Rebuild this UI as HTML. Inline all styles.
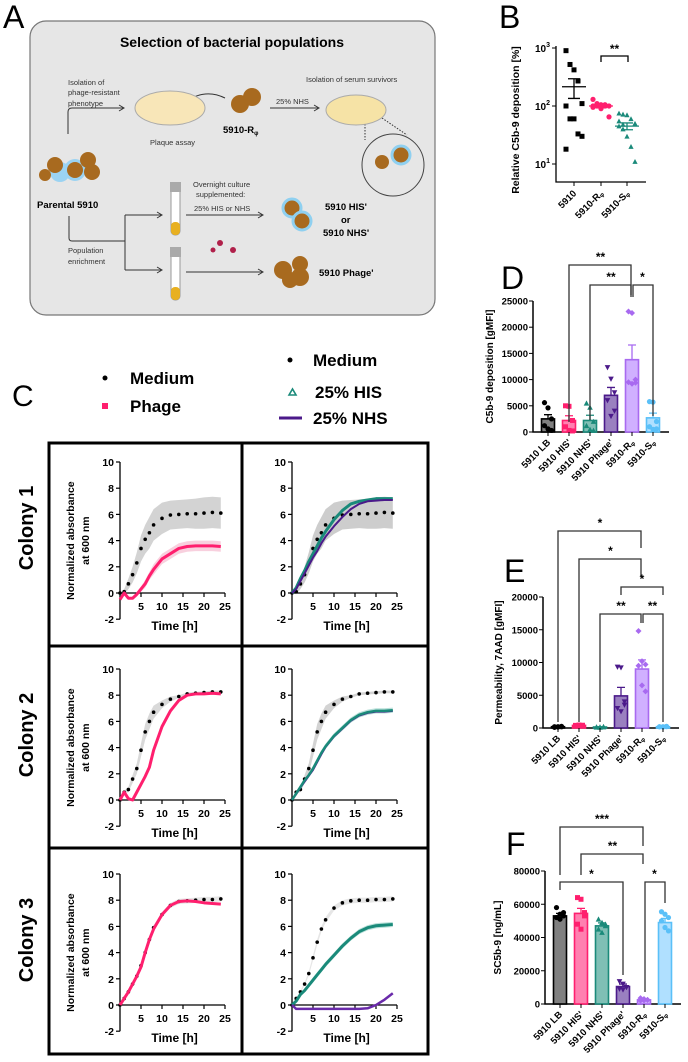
<!DOCTYPE html>
<html><head><meta charset="utf-8"><style>
html,body{margin:0;padding:0;background:#fff;}
svg{display:block;font-family:"Liberation Sans",Arial,sans-serif;}
</style></head><body>
<svg id="fig" width="688" height="1062" viewBox="0 0 688 1062" xmlns="http://www.w3.org/2000/svg">
<!-- Panel A -->
<g>
<text x="3" y="28" font-size="32">A</text>
<rect x="30" y="21" width="405" height="294" rx="16" fill="#e6e6e6" stroke="#777" stroke-width="1.2"/>
<text x="232" y="47" font-size="14" font-weight="bold" text-anchor="middle">Selection of bacterial populations</text>
<g font-size="7.5" fill="#333">
<text x="68" y="85">Isolation of</text><text x="68" y="95">phage-resistant</text><text x="68" y="106">phenotype</text>
<text x="150" y="145">Plaque assay</text>
<text x="276" y="104">25% NHS</text>
<text x="306" y="82">Isolation of serum survivors</text>
<text x="193" y="187">Overnight culture</text><text x="196" y="197">supplemented:</text>
<text x="194" y="211">25% HIS or NHS</text>
<text x="68" y="253">Population</text><text x="68" y="264">enrichment</text>
</g>
<g font-weight="bold" font-size="9.5">
<text x="37" y="208">Parental 5910</text>
<text x="223" y="133">5910-R<tspan font-size="6" dy="2">φ</tspan></text>
<text x="372" y="183">5910-S<tspan font-size="6" dy="2">φ</tspan></text>
<text x="325" y="210">5910 HIS'</text><text x="341" y="223">or</text><text x="323" y="236">5910 NHS'</text>
<text x="319" y="276">5910 Phage'</text>
</g>
<g fill="none" stroke="#333" stroke-width="1">
<path d="M68 134 V112 Q68 108 72 108 H123"/><path d="M119 105 L124 108 L119 111"/>
<path d="M270 108 H318"/><path d="M314 105 L319 108 L314 111"/>
<path d="M185 102 Q205 88 225 98"/>
<path d="M69 216 V238 Q69 241 72 241 H125"/>
<path d="M125 215 V270 M125 215 H161 M125 270 H161"/><path d="M157 212 L162 215 L157 218 M157 267 L162 270 L157 273"/>
<path d="M186 215 H262"/><path d="M258 212 L263 215 L258 218"/>
<path d="M186 272 H262"/><path d="M258 269 L263 272 L258 275"/>
<path d="M365 118 L365 140 M382 118 L407 135" stroke-dasharray="1.5 1.5"/>
</g>
<ellipse cx="170" cy="108" rx="35" ry="17" fill="#f8e6b8" stroke="#aaa"/>
<ellipse cx="356" cy="110" rx="30" ry="15" fill="#f6e3a6" stroke="#aaa"/>
<circle cx="393" cy="165" r="31" fill="#e6e6e6" stroke="#444"/>
<g fill="#a86a1f">
<circle cx="240" cy="104" r="9"/><circle cx="252" cy="97" r="9"/>
<circle cx="60" cy="172" r="10" fill="#9bd3f2"/><circle cx="75" cy="170" r="11" fill="#9bd3f2"/>
<circle cx="55" cy="165" r="8"/><circle cx="75" cy="170" r="8"/><circle cx="88" cy="160" r="8"/><circle cx="92" cy="172" r="8"/><circle cx="45" cy="175" r="6"/>
<circle cx="382" cy="162" r="7"/><circle cx="401" cy="155" r="9" stroke="#8fd0f0" stroke-width="3"/>
<circle cx="292" cy="208" r="9" stroke="#8fd0f0" stroke-width="3"/><circle cx="302" cy="221" r="9" stroke="#8fd0f0" stroke-width="3"/>
<circle cx="283" cy="270" r="9"/><circle cx="300" cy="264" r="8"/><circle cx="300" cy="277" r="9"/><circle cx="290" cy="280" r="8"/>
</g>
<g>
<rect x="171" y="183" width="9" height="52" rx="4" fill="#fff" stroke="#999"/><rect x="171" y="222" width="9" height="13" rx="4" fill="#e8b020"/><rect x="170" y="182" width="11" height="10" fill="#aaa"/>
<rect x="171" y="248" width="9" height="52" rx="4" fill="#fff" stroke="#999"/><rect x="171" y="287" width="9" height="13" rx="4" fill="#e8b020"/><rect x="170" y="247" width="11" height="10" fill="#aaa"/>
<circle cx="220" cy="243" r="3" fill="#b0204a"/><circle cx="233" cy="250" r="3" fill="#b0204a"/><circle cx="213" cy="250" r="2.5" fill="#b0204a"/>
</g>
</g>

<!-- Panel C -->
<g>
<text x="12" y="406" font-size="30">C</text>
<g font-size="17" font-weight="bold">
<circle cx="105" cy="378" r="2.5" fill="#000"/>
<text x="130" y="384">Medium</text>
<rect x="102" y="403" width="6" height="6" fill="#ff1f6e"/>
<text x="130" y="412">Phage</text>
<circle cx="290" cy="360" r="2.5" fill="#000"/>
<text x="313" y="366">Medium</text>
<path d="M289 395 L292.5 389 L296 395 Z" fill="none" stroke="#1a8a7a" stroke-width="1.6"/>
<text x="315" y="398">25% HIS</text>
<line x1="279" y1="418" x2="302" y2="418" stroke="#4b1a8a" stroke-width="3"/>
<text x="313" y="424">25% NHS</text>
</g>
<g fill="none" stroke="#000" stroke-width="3">
<rect x="49" y="443" width="379" height="611"/>
<line x1="242" y1="443" x2="242" y2="1054"/>
<line x1="49" y1="646" x2="428" y2="646"/>
<line x1="49" y1="848" x2="428" y2="848"/>
</g>
<g font-size="20" font-weight="bold">
<text transform="translate(33,528) rotate(-90)" text-anchor="middle">Colony 1</text>
<text transform="translate(33,735) rotate(-90)" text-anchor="middle">Colony 2</text>
<text transform="translate(33,940) rotate(-90)" text-anchor="middle">Colony 3</text>
</g>
<g id="growth"></g>
</g>

<!-- Panel B -->
<g>
<text x="499" y="28" font-size="32">B</text>
<g id="panelB"></g>
</g>
<g>
<text x="501" y="289" font-size="32">D</text>
<g id="panelD"></g>
</g>
<g>
<text x="504" y="582" font-size="32">E</text>
<g id="panelE"></g>
</g>
<g>
<text x="506" y="855" font-size="32">F</text>
<g id="panelF"></g>
</g>
</svg>
<script>
// ---------- Panel C data ----------
const tHours = [0,1,2,3,4,5,6,7,8,10,12,14,16,18,20,22,24];
const c1Medium = [0,0.1,0.7,1.4,2.3,3.4,4.1,4.6,5.2,5.7,5.95,6.0,6.05,6.05,6.1,6.15,6.1];
const c1MediumErr = [0,0.2,0.4,0.6,0.8,1.0,1.1,1.2,1.2,1.2,1.1,1.1,1.1,1.15,1.2,1.2,1.2];
const c1Phage = [-0.5,0,-0.4,-0.4,-0.1,0.3,0.7,1.3,1.8,2.6,3.0,3.4,3.55,3.6,3.6,3.6,3.55];
const c1PhageErr = [0.1,0.1,0.1,0.1,0.2,0.2,0.3,0.3,0.4,0.4,0.4,0.4,0.4,0.4,0.4,0.4,0.4];
const c1His = [0,0.4,1.1,1.7,2.4,3.0,3.6,4.2,4.7,5.6,6.3,6.8,7.0,7.1,7.2,7.2,7.2];
const c1Nhs = [0,0.3,0.9,1.5,2.1,2.7,3.2,3.8,4.3,5.1,5.8,6.4,6.8,7.0,7.05,7.1,7.1];
const c2Medium = [0,0.6,0.8,1.6,2.4,3.8,5.2,6.0,6.7,7.3,7.7,7.9,8.1,8.15,8.2,8.25,8.25];
const c2MediumErr = [0,0.1,0.2,0.3,0.4,0.5,0.6,0.6,0.5,0.3,0.2,0.1,0.1,0.1,0.1,0.1,0.1];
const c2Phage = [0,0.6,0.1,0,0.6,1.2,1.8,2.5,3.8,5.6,6.8,7.6,8.0,8.1,8.1,8.15,8.1];
const c2His = [0,0.5,1.0,1.5,1.9,2.4,3.0,3.6,4.1,4.9,5.5,6.1,6.5,6.7,6.8,6.8,6.85];
const c2Nhs = [0,0.45,0.95,1.4,1.85,2.3,2.9,3.5,4.05,4.85,5.45,6.05,6.45,6.65,6.75,6.75,6.8];
const c3Medium = [0,0.5,1.0,1.6,2.2,3.0,4.0,5.0,5.9,6.9,7.6,7.9,7.95,8.0,8.05,8.05,8.1];
const c3Phage = [0,0.5,1.0,1.6,2.2,2.9,4.0,5.0,5.8,6.9,7.6,7.9,7.95,7.9,7.8,7.75,7.7];
const c3MediumB = [0,0.5,1.0,1.6,2.4,3.6,4.8,5.8,6.5,7.4,7.8,7.95,8.0,8.0,8.05,8.05,8.1];
const c3His = [0,0.3,0.8,1.1,1.5,1.9,2.3,2.7,3.1,3.8,4.5,5.1,5.6,5.9,6.05,6.1,6.15];
const c3Nhs = [0,-0.3,-0.3,-0.3,-0.3,-0.3,-0.3,-0.3,-0.3,-0.3,-0.3,-0.3,-0.3,-0.25,0,0.4,0.9];
const smallErr = [0,0.05,0.1,0.1,0.15,0.2,0.2,0.2,0.2,0.2,0.2,0.2,0.2,0.2,0.2,0.2,0.2];
const growthYTicks = [-2,0,2,4,6,8,10];
const growthXTicks = [5,10,15,20,25];

// ---------- Panel B data ----------
const bGroups = ["5910","5910-R","5910-S"];
const b5910 = [900,520,420,270,110,100,60,60,33,30,18];
const bR = [130,110,105,100,100,95,100,90,105,65,100];
const bS = [75,72,70,60,50,45,40,30,20,11,55,48];
const bMeans = [215,100,45];
const bSem = [80,6,6];

// ---------- Bar panels data ----------
const barGroups = ["5910 LB","5910 HIS'","5910 NHS'","5910 Phage'","5910-R","5910-S"];
const dMeans = [2500,2200,2200,7000,13800,2700];
const dSem = [800,900,1000,1500,2800,900];
const dPoints = [[5600,4600,2500,1200,600,300],[5000,4900,2200,1000,300,200],[5500,4700,2000,1200,500,300],[12300,10100,7500,6000,3000,4000],[23000,22700,10000,9500,9200,9400],[5800,5700,2000,1000,500,600]];
const dTicks = [0,5000,10000,15000,20000,25000];
const eMeans = [200,400,150,4900,9000,200];
const eSem = [50,50,40,1300,1400,50];
const ePoints = [[200,150,250,100,200,180],[400,450,350,300,400,420],[150,100,200,120,150,160],[9300,9200,4000,3000,2500,3500],[14800,10200,9700,9500,6500,5600],[200,150,250,180,200,210]];
const eTicks = [0,5000,10000,15000,20000];
const fMeans = [53000,54500,47000,10500,2500,49000];
const fSem = [1500,3000,1800,1500,400,2500];
const fPoints = [[58000,54000,53000,52000,51000,55000],[64000,63000,53000,48000,45000,55000],[51000,49000,47000,45000,43000,48000],[13500,12000,10000,9000,8500,10000],[3500,3000,2500,2000,2200,2500],[55500,54000,52000,50000,46000,44000]];
const fTicks = [0,20000,40000,60000,80000];

const NS = "http://www.w3.org/2000/svg";
function mk(parent, tag, attrs){
  const el = document.createElementNS(NS, tag);
  for (const k in attrs) el.setAttribute(k, attrs[k]);
  parent.appendChild(el); return el;
}

// ---------- Growth plots ----------
const growth = document.getElementById('growth');
function growthPlot(x0, y0, series, idx){
  const g = mk(growth,'g',{});
  
  
  const sx = t => x0 + t * (105/25);
  const sy = v => y0 - v * 13.1;
  // bands
  series.forEach(s => {
    if (!s.err) return;
    let d = '';
    tHours.forEach((t,i)=>{ d += (i?'L':'M') + sx(t) + ' ' + sy(s.v[i]+s.err[i]) + ' '; });
    for (let i=tHours.length-1;i>=0;i--) d += 'L' + sx(tHours[i]) + ' ' + sy(s.v[i]-s.err[i]) + ' ';
    const b = mk(g,'path',{d:d+'Z', fill:s.band, opacity:0.8});
    
    
  });
  // axes
  const ax = mk(g,'path',{d:`M${x0} ${sy(10)} V${sy(-2)} M${x0} ${sy(0)} H${sx(25)}`, stroke:'#000', fill:'none', 'stroke-width':1.3});
  
  
  growthYTicks.forEach(v => {
    mk(g,'line',{x1:x0-4,x2:x0,y1:sy(v),y2:sy(v),stroke:'#000','stroke-width':1.2});
    const t = mk(g,'text',{x:x0-6,y:sy(v)+4,'font-size':10.5,'font-weight':'bold','text-anchor':'end'});
    t.textContent = v;
    
    
  });
  growthXTicks.forEach(v => {
    mk(g,'line',{x1:sx(v),x2:sx(v),y1:sy(0),y2:sy(0)+4,stroke:'#000','stroke-width':1.2});
    const t = mk(g,'text',{x:sx(v),y:sy(0)+17,'font-size':10.5,'font-weight':'bold','text-anchor':'middle'});
    t.textContent = v;
    
    
  });
  const xt = mk(g,'text',{x:sx(13),y:sy(0)+37,'font-size':12,'font-weight':'bold','text-anchor':'middle'});
  xt.textContent = 'Time [h]';
  
  
  if (x0 < 200){
    const yt = mk(g,'text',{transform:`translate(${x0-46},${sy(4)}) rotate(-90)`,'font-size':10.5,'font-weight':'bold','text-anchor':'middle'});
    
    
    const a = mk(yt,'tspan',{x:0,dy:0}); a.textContent='Normalized absorbance';
    const b = mk(yt,'tspan',{x:0,dy:15}); b.textContent='at 600 nm';
  }
  series.forEach(s => {
    if (s.type === 'dots'){
      tHours.forEach((t,i)=>{
        const c = mk(g,'circle',{cx:sx(t),cy:sy(s.v[i]),r:1.8,fill:'#000'});
        
        
      });
    } else {
      const d = tHours.map((t,i)=>(i?'L':'M')+sx(t)+' '+sy(s.v[i])).join(' ');
      const p = mk(g,'path',{d:d,fill:'none',stroke:s.color,'stroke-width':s.w||2.5,'stroke-linejoin':'round'});
      
      
    }
  });
}
const LX = 120, RX = 292;
growthPlot(LX, 593, [{name:'medium',v:c1Medium,err:c1MediumErr,band:'#c8c8c8',type:'dots'},{name:'phage',v:c1Phage,err:c1PhageErr,band:'#f6c4d6',color:'#ff1f6e',w:3}], 'c1-left');
growthPlot(RX, 593, [{name:'medium',v:c1Medium,err:c1MediumErr,band:'#c0c0c0',type:'dots'},{name:'his',v:c1His,color:'#1a8a7a',w:3},{name:'nhs',v:c1Nhs,color:'#4b1a8a',w:2}], 'c1-right');
growthPlot(LX, 800, [{name:'medium',v:c2Medium,err:c2MediumErr,band:'#d0d0d0',type:'dots'},{name:'phage',v:c2Phage,color:'#ff1f6e',w:3}], 'c2-left');
growthPlot(RX, 800, [{name:'medium',v:c2Medium,err:c2MediumErr,band:'#c8c8c8',type:'dots'},{name:'nhs',v:c2Nhs,color:'#4b1a8a',w:2},{name:'his',v:c2His,err:smallErr,band:'#a8d8d0',color:'#1a8a7a',w:2.5}], 'c2-right');
growthPlot(LX, 1005, [{name:'medium',v:c3Medium,err:smallErr,band:'#e0e0e0',type:'dots'},{name:'phage',v:c3Phage,color:'#ff1f6e',w:3}], 'c3-left');
growthPlot(RX, 1005, [{name:'medium',v:c3MediumB,err:smallErr,band:'#e0e0e0',type:'dots'},{name:'his',v:c3His,err:smallErr,band:'#a8d8d0',color:'#1a8a7a',w:3},{name:'nhs',v:c3Nhs,color:'#6a2aaa',w:2.5}], 'c3-right');

// ---------- Panel B ----------
(function(){
  const g = document.getElementById('panelB');
  const x0 = 556, yb = 182;
  const sy = v => 106 - (Math.log10(v) - 2) * 58;
  const xs = [574, 601, 627];
  mk(g,'path',{d:`M${x0} 46 V${yb} H646`,stroke:'#000',fill:'none','stroke-width':1.3});
  [[1000,'3'],[100,'2'],[10,'1']].forEach(([v,e])=>{
    mk(g,'line',{x1:x0-4,x2:x0,y1:sy(v),y2:sy(v),stroke:'#000'});
    const t = mk(g,'text',{x:x0-6,y:sy(v)+4,'font-size':10,'font-weight':'bold','text-anchor':'end'});
    
    
    t.appendChild(document.createTextNode('10'));
    const s = mk(t,'tspan',{dy:-5,'font-size':7}); s.textContent = e;
  });
  const yt = mk(g,'text',{transform:`translate(519,120) rotate(-90)`,'font-size':10.5,'font-weight':'bold','text-anchor':'middle'});
  yt.textContent = 'Relative C5b-9 deposition [%]';
  
  
  const sets = [[b5910,'#000','sq'],[bR,'#ff1f6e','ci'],[bS,'#1a8a7a','tr']];
  sets.forEach(([arr,col,shape],gi)=>{
    mk(g,'line',{x1:xs[gi],x2:xs[gi],y1:yb,y2:yb+4,stroke:'#000'});
    arr.forEach((v,i)=>{
      const off = ((i%5)-2)*4;
      const x = xs[gi]+off, y = sy(v);
      let m;
      if (shape==='sq') m = mk(g,'rect',{x:x-2.5,y:y-2.5,width:5,height:5,fill:col});
      else if (shape==='ci') m = mk(g,'circle',{cx:x,cy:y,r:2.6,fill:col});
      else m = mk(g,'path',{d:`M${x-2.6} ${y+2.3} L${x} ${y-2.6} L${x+2.6} ${y+2.3}Z`,fill:col});
      
      
    });
    const ym = sy(bMeans[gi]);
    const mline = mk(g,'path',{d:`M${xs[gi]-12} ${ym} H${xs[gi]+12} M${xs[gi]} ${sy(bMeans[gi]+bSem[gi])} V${sy(bMeans[gi]-bSem[gi])} M${xs[gi]-6} ${sy(bMeans[gi]+bSem[gi])} H${xs[gi]+6} M${xs[gi]-6} ${sy(bMeans[gi]-bSem[gi])} H${xs[gi]+6}`,stroke:col,fill:'none','stroke-width':1.3});
    
    
    const lt = mk(g,'text',{transform:`translate(${xs[gi]+3},${yb+12}) rotate(-45)`,'font-size':9.5,'font-weight':'bold','text-anchor':'end'});
    
    
    lt.appendChild(document.createTextNode(bGroups[gi]));
    if (gi>0){ const s = mk(lt,'tspan',{'font-size':6,dy:1}); s.textContent='φ'; }
  });
  const br = mk(g,'path',{d:`M601 62 V56 H628 V62`,stroke:'#000',fill:'none','stroke-width':1.3});
  
  
  const st = mk(g,'text',{x:614.5,y:53,'font-size':12,'font-weight':'bold','text-anchor':'middle'}); st.textContent='**';
})();

// ---------- Bar panels ----------
const fills = ['#808080','#ff80b0','#7fbfb5','#9a80c0','#d0b0ff','#b0e0ff'];
const strokes = ['#000','#ff1f6e','#1a8a7a','#4b1a8a','#a86af0','#5ac0f8'];
const markers = ['ci','sq','tr','tv','di','ci'];
function barPanel(id, x0, y0, yTop, maxV, ticks, means, sem, points, title, titleX, brackets){
  const g = document.getElementById(id);
  const sy = v => y0 - v * (y0 - yTop) / maxV;
  const xs = barGroups.map((_,i)=> x0 + 15 + i*21);
  mk(g,'path',{d:`M${x0} ${yTop} V${y0} H${x0+136}`,stroke:'#000',fill:'none','stroke-width':1.5});
  ticks.forEach(v=>{
    mk(g,'line',{x1:x0-4,x2:x0,y1:sy(v),y2:sy(v),stroke:'#000'});
    const t = mk(g,'text',{x:x0-5,y:sy(v)+3.5,'font-size':9.5,'font-weight':'bold','text-anchor':'end'});
    t.textContent = v;
    
    
  });
  const yt = mk(g,'text',{transform:`translate(${titleX},${(y0+yTop)/2}) rotate(-90)`,'font-size':10,'font-weight':'bold','text-anchor':'middle'});
  yt.textContent = title;
  
  
  means.forEach((m,i)=>{
    const x = xs[i];
    const r = mk(g,'rect',{x:x-6.5,y:sy(m),width:13,height:y0-sy(m),fill:fills[i],stroke:strokes[i],'stroke-width':1.6});
    
    
    const e = mk(g,'path',{d:`M${x} ${sy(m)} V${sy(m+sem[i])} M${x-4} ${sy(m+sem[i])} H${x+4}`,stroke:strokes[i],fill:'none','stroke-width':1.3});
    
    
    points[i].forEach((v,j)=>{
      const px = x + ((j%3)-1)*3.5, py = sy(v);
      const s = markers[i]; let mm;
      if (s==='ci') mm = mk(g,'circle',{cx:px,cy:py,r:2.6,fill:strokes[i]});
      else if (s==='sq') mm = mk(g,'rect',{x:px-2.5,y:py-2.5,width:5,height:5,fill:strokes[i]});
      else if (s==='tr') mm = mk(g,'path',{d:`M${px-2.8} ${py+2.4} L${px} ${py-2.8} L${px+2.8} ${py+2.4}Z`,fill:strokes[i]});
      else if (s==='tv') mm = mk(g,'path',{d:`M${px-2.8} ${py-2.4} L${px} ${py+2.8} L${px+2.8} ${py-2.4}Z`,fill:strokes[i]});
      else mm = mk(g,'path',{d:`M${px} ${py-3} L${px+3} ${py} L${px} ${py+3} L${px-3} ${py}Z`,fill:strokes[i]});
      
      
    });
    mk(g,'line',{x1:x,x2:x,y1:y0,y2:y0+4,stroke:'#000'});
    const lt = mk(g,'text',{transform:`translate(${x+3},${y0+11}) rotate(-45)`,'font-size':9.5,'font-weight':'bold','text-anchor':'end'});
    
    
    const lab = barGroups[i];
    lt.appendChild(document.createTextNode(lab));
    if (i>=4){ const s = mk(lt,'tspan',{'font-size':6,dy:1}); s.textContent='φ'; }
  });
  brackets.forEach(([a,b,y,bottomA,bottomB,lab])=>{
    const p = mk(g,'path',{d:`M${xs[a]+(a===4?1:0)} ${bottomA} V${y} H${xs[b]-(b===4?1:0)} V${bottomB}`,stroke:'#333',fill:'none','stroke-width':1.3});
    
    
    const t = mk(g,'text',{x:(xs[a]+xs[b])/2,y:y-4,'font-size':12,'font-weight':'bold','text-anchor':'middle'});
    t.textContent = lab;
    
    
  });
}
barPanel('panelD', 533, 432, 301, 25000, dTicks, dMeans, dSem, dPoints, 'C5b-9 deposition [gMFI]', 493,
  [[1,4,265,422,295,'**'],[2,4,285,420,297,'**'],[4,5,285,297,416,'*']]);
barPanel('panelE', 543, 728, 597, 20000, eTicks, eMeans, eSem, ePoints, 'Permeability, 7AAD [gMFI]', 502,
  [[0,4,531,722,548,'*'],[1,4,559,722,576,'*'],[3,5,587,595,595,'*'],[2,4,614,722,623,'**'],[4,5,614,623,722,'**']]);
barPanel('panelF', 545, 1004, 871, 80000, fTicks, fMeans, fSem, fPoints, 'SC5b-9 [ng/mL]', 501,
  [[0,4,827,875,846,'***'],[1,4,854,875,864,'**'],[0,3,882,890,975,'*'],[4,5,882,992,903,'*']]);
</script>
</body></html>
